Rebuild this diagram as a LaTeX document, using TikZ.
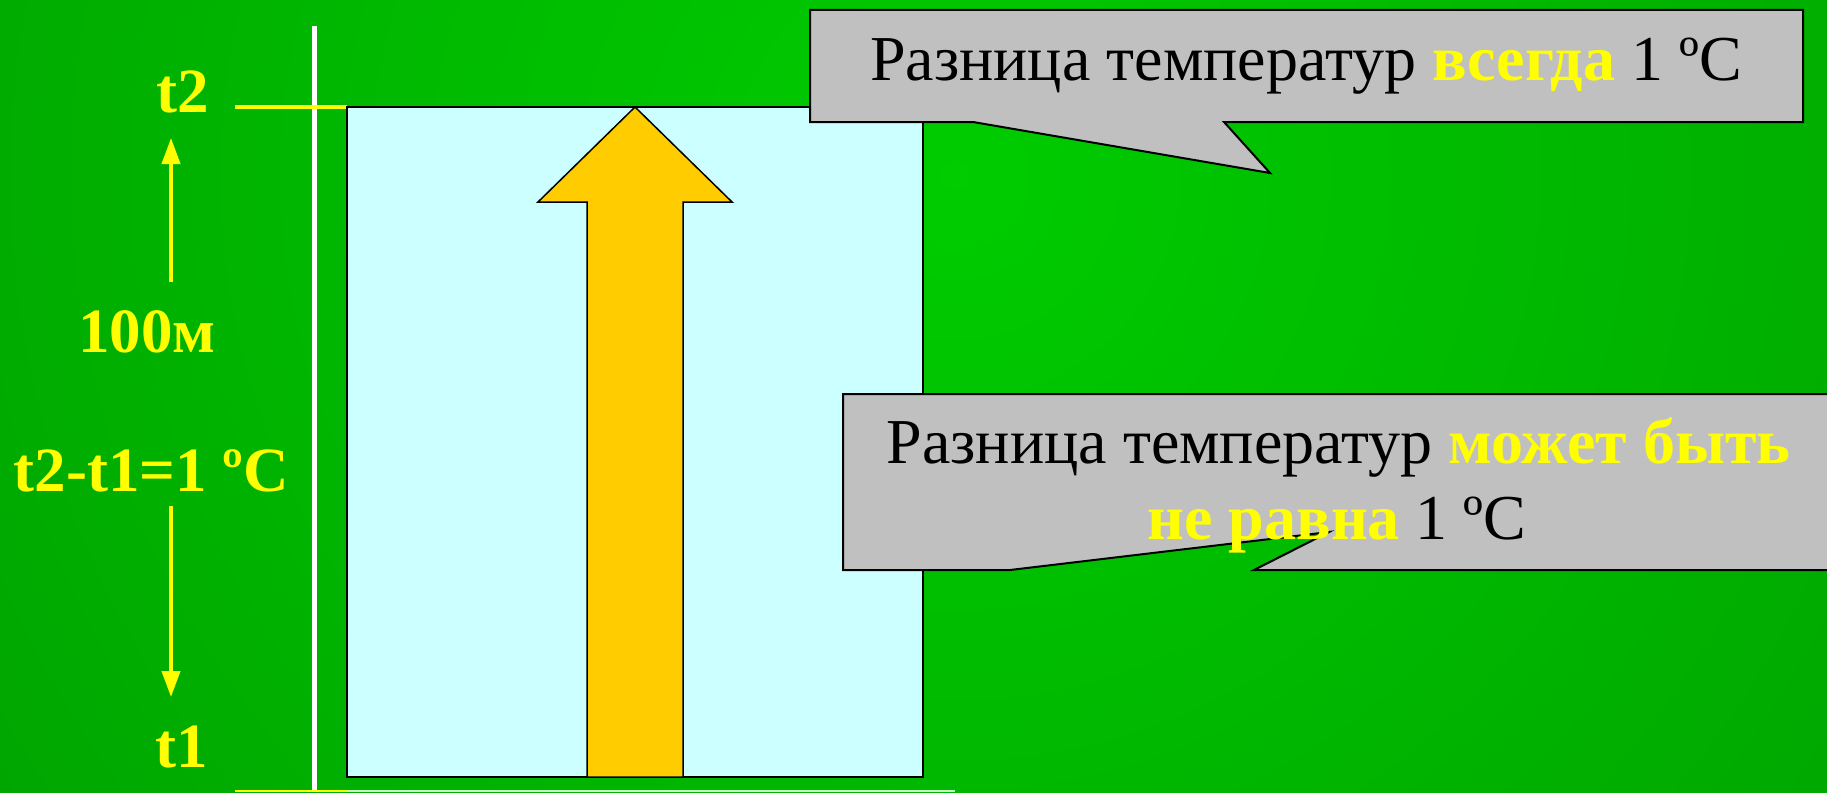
\documentclass[tikz,border=0pt]{standalone}
\usepackage{fontspec}
\setmainfont{Liberation Serif}
\usetikzlibrary{arrows.meta}
\definecolor{labyellow}{HTML}{FFFF00}
\definecolor{calgray}{HTML}{C0C0C0}
\definecolor{lightcyan}{HTML}{CCFFFF}
\definecolor{arrorange}{HTML}{FFCC00}
\definecolor{bgbright}{HTML}{00CC00}
\definecolor{bgdark}{HTML}{008000}
\definecolor{palegreen}{HTML}{C8F0C8}
\begin{document}
\begin{tikzpicture}[x=1pt,y=-1pt,
  lab/.style={text=labyellow, font=\fontsize{63}{70}\selectfont\bfseries, inner sep=0pt, anchor=base},
  captxt/.style={text=black, font=\fontsize{64}{72}\selectfont, inner sep=0pt, anchor=base},
  yarrow/.style={draw=labyellow, line width=4pt, -{Triangle[length=26pt,width=18pt]}},
  callout/.style={fill=calgray, draw=black, line width=2pt, line join=miter},
  tube/.style={fill=lightcyan, draw=black, line width=2pt},
  bigarrow/.style={fill=arrorange, draw=black, line width=1.5pt, line join=miter}]
\useasboundingbox (0,0) rectangle (1827,792);
% background
\begin{scope}
  \clip (0,0) rectangle (1827,792);
  \shade[inner color=bgbright, outer color=bgdark] (955,175) circle (2280pt);
\end{scope}
% white axis line
\draw[white, line width=5pt] (314.5,26) -- (314.5,792);
% yellow tick at t2
\draw[labyellow, line width=4pt] (235,107) -- (347,107);
% bottom edge strips
\draw[labyellow, line width=2pt] (235,791) -- (347,791);
\draw[palegreen, line width=2pt] (347,791) -- (955,791);
% tube
\draw[tube] (347,107) rectangle (923,777);
% big orange arrow
\draw[bigarrow] (635,107) -- (732,202) -- (683,202) -- (683,777) -- (587,777) -- (587,202) -- (538,202) -- cycle;
% labels
\node[lab] (t2) at (182.5,112) {t2};
\node[lab] (m100) at (147,352) {100м};
\node[lab] (diff) at (151.5,491) {t2-t1=1 ºC};
\node[lab] (t1) at (181.5,767) {t1};
\coordinate (upS) at (171,282);
\coordinate (upT) at (171,138);
\coordinate (dnS) at (171,506);
\coordinate (dnT) at (171,697);
\draw[yarrow] (upS) -- (upT);
\draw[yarrow] (dnS) -- (dnT);
% callout 1
\draw[callout] (810,10) -- (1803,10) -- (1803,122) -- (1224,122) -- (1270,173) -- (973,122) -- (810,122) -- cycle;
\node[captxt] (c1) at (1306,80) {Разница температур \textcolor{labyellow}{\bfseries всегда} 1 ºC};
% callout 2 (extends beyond right edge)
\begin{scope}
  \clip (0,0) rectangle (1827,792);
  \draw[callout] (843,394) -- (1845,394) -- (1845,570) -- (1254,570) -- (1329,532) -- (1010,570) -- (843,570) -- cycle;
\end{scope}
\node[captxt] (c2a) at (1338.5,463) {Разница температур \textcolor{labyellow}{\bfseries может быть}};
\node[captxt] (c2b) at (1337,539) {\textcolor{labyellow}{\bfseries не равна} 1 ºC};
\end{tikzpicture}
\end{document}
